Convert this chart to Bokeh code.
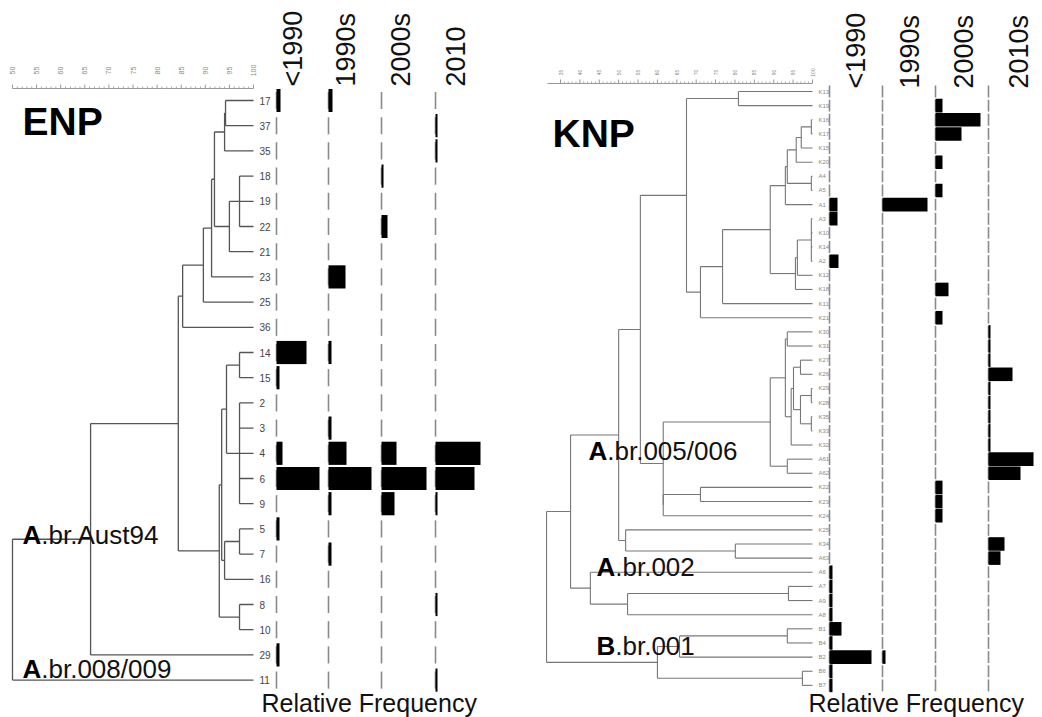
import math
from bokeh.plotting import figure
from bokeh.models import Range1d
from bokeh.layouts import row
from bokeh.embed import file_html
from bokeh.resources import INLINE
from bokeh.core.properties import value

FONT = value("Liberation Sans")

# ---------------- ENP data ----------------
enp_leaves = ["17", "37", "35", "18", "19", "22", "21", "23", "25", "36", "14", "15",
              "2", "3", "4", "6", "9", "5", "7", "16", "8", "10", "29", "11"]
enp_periods = ["<1990", "1990s", "2000s", "2010"]
enp_lt1990 = [0.04, 0, 0, 0, 0, 0, 0, 0, 0, 0, 0.30, 0.03, 0, 0, 0.06, 0.43, 0, 0.03, 0, 0, 0, 0, 0.03, 0]
enp_1990s = [0.04, 0, 0, 0, 0, 0, 0, 0.17, 0, 0, 0.03, 0, 0, 0.03, 0.18, 0.43, 0.03, 0, 0.03, 0, 0, 0, 0, 0]
enp_2000s = [0, 0, 0, 0.02, 0, 0.06, 0, 0, 0, 0, 0, 0, 0, 0, 0.15, 0.45, 0.13, 0, 0, 0, 0, 0, 0, 0]
enp_2010 = [0, 0.02, 0.02, 0, 0, 0, 0, 0, 0, 0, 0, 0, 0, 0, 0.45, 0.39, 0.02, 0, 0, 0, 0.02, 0, 0, 0.02]
# dendrogram: (similarity, child, child, ...)
enp_tree = (50.0,
            (66.2,
             (84.4,
              (85.3,
               (89.6,
                (91.3,
                 (91.9,
                  (94.0, (94.2, "17", "37"), "35"),
                  (95.0, (97.1, "18", "19", "22"), "21")),
                 "23"),
                "25"),
               "36"),
              (92.9,
               (93.4,
                (94.4, (97.1, "14", "15"), (97.1, "2", "3", "4", "6", "9")),
                (94.0, (97.1, "5", "7"), "16")),
               (97.1, "8", "10"))),
             "29"),
            "11")
enp_ticks = [50, 55, 60, 65, 70, 75, 80, 85, 90, 95, 100]

# ---------------- KNP data ----------------
knp_leaves = ["K13", "K19", "K16", "K17", "K15", "K20", "A4", "A5", "A1", "A3", "K10", "K14", "A2",
              "K12", "K18", "K11", "K21", "K30", "K31", "K27", "K26", "K29", "K28", "K35", "K33",
              "K32", "A61", "A62", "K22", "K23", "K24", "K25", "K34", "A63", "A6", "A7", "A9", "A8",
              "B1", "B4", "B2", "B6", "B7"]
knp_periods = ["<1990", "1990s", "2000s", "2010s"]
knp_lt1990 = [0, 0, 0, 0, 0, 0, 0, 0, 0.08, 0.08, 0, 0, 0.09, 0, 0, 0, 0, 0, 0, 0, 0, 0, 0, 0, 0,
              0, 0, 0, 0, 0, 0, 0, 0, 0, 0.03, 0.03, 0.03, 0.03, 0.12, 0.03, 0.42, 0.03, 0.03]
knp_1990s = [0, 0, 0, 0, 0, 0, 0, 0, 0.45, 0, 0, 0, 0, 0, 0, 0, 0, 0, 0, 0, 0, 0, 0, 0, 0,
             0, 0, 0, 0, 0, 0, 0, 0, 0, 0, 0, 0, 0, 0, 0, 0.03, 0, 0]
knp_2000s = [0, 0.07, 0.45, 0.26, 0, 0.07, 0, 0.07, 0, 0, 0, 0, 0, 0, 0.13, 0, 0.07, 0, 0, 0, 0, 0, 0, 0, 0,
             0, 0, 0, 0.07, 0.07, 0.07, 0, 0, 0, 0, 0, 0, 0, 0, 0, 0, 0, 0]
knp_2010s = [0, 0, 0, 0, 0, 0, 0, 0, 0, 0, 0, 0, 0, 0, 0, 0, 0, 0.02, 0.02, 0.02, 0.24, 0.02, 0.02, 0.02, 0.02,
             0.02, 0.45, 0.32, 0, 0, 0, 0, 0.16, 0.12, 0, 0, 0, 0, 0, 0, 0, 0, 0]
knp_tree = (31.4,
            (37.6,
             (50.0,
              (55.6,
               (67.5,
                (80.9, "K13", "K19"),
                (71.1,
                 (76.8,
                  (89.1,
                   (93.0,
                    (93.5,
                     (95.8, (97.1, (99.7, "K16", "K17"), "K15"), "K20"),
                     (99.7, "A4", "A5")),
                    "A1"),
                   (95.6, (96.1, (99.7, "A3", "K10", "K14", "A2"), "K12"), "K18")),
                  "K11"),
                 "K21")),
               (61.5,
                (89.1,
                 (93.0,
                  (93.5, "K30", "K31"),
                  (94.5,
                   (95.1, (96.9, "K27", "K26"), (96.9, (99.7, "K29", "K28"), (99.7, "K35", "K33"))),
                   "K32")),
                 (93.5, "A61", "A62")),
                (61.5, (71.1, "K22", "K23"), "K24"))),
              (51.8, "K25", (80.1, "K34", "A63"))),
             (42.7, "A6", (52.3, (93.8, "A7", "A9"), "A8"))),
            (60.0,
             (65.7, (93.5, "B1", "B4"), "B2"),
             (97.4, "B6", "B7")))
knp_ticks = [35, 40, 45, 50, 55, 60, 65, 70, 75, 80, 85, 90, 95, 100]


def walk(node, idx, segs, info):
    if isinstance(node, str):
        return 100.0, float(idx[node])
    s = node[0]
    kids = [walk(k, idx, segs, info) for k in node[1:]]
    ys = [k[1] for k in kids]
    y = sum(ys) / len(ys)
    segs.append((s, min(ys), s, max(ys)))
    for ks, kyy in kids:
        segs.append((s, kyy, ks, kyy))
    info.append((s, y, kids))
    return s, y


def panel(title, leaves, tree, periods, freqs, ticks, lay):
    W, H = lay["W"], lay["H"]
    kx, x0, s0 = lay["kx"], lay["x0"], ticks[0]
    ky, y0 = lay["ky"], lay["y0"]
    kf = lay["kf"]

    def X(px):
        return s0 + (px - x0) / kx

    def Y(py):
        return (py - y0) / ky

    p = figure(width=W, height=H, x_range=Range1d(X(0), X(W)), y_range=Range1d(Y(H), Y(0)),
               x_axis_location=None, y_axis_location=None, toolbar_location=None,
               output_backend="svg", min_border=0, outline_line_color=None,
               background_fill_color="white", border_fill_color="white")
    p.grid.visible = False
    for j, b in enumerate(lay["bases"]):
        p.extra_x_ranges["c%d" % j] = Range1d(-b / kf, (W - b) / kf)

    # ruler
    ry = Y(lay["ruler_y"])
    p.segment(x0=[X(lay["ruler_x0"])], y0=[ry], x1=[ticks[-1]], y1=[ry], line_color="#999999", line_width=1)
    minor = [t0 + k * (ticks[1] - ticks[0]) / 5.0 for t0 in ticks[:-1] for k in range(1, 5)]
    p.segment(x0=minor, y0=[ry] * len(minor), x1=minor, y1=[ry - 2.0 / ky] * len(minor),
              line_color="#aaaaaa", line_width=1)
    p.segment(x0=ticks, y0=[ry] * len(ticks), x1=ticks, y1=[ry - 4.0 / ky] * len(ticks),
              line_color="#999999", line_width=1)
    p.text(x=ticks, y=[Y(lay["ruler_lab_y"])] * len(ticks), text=[str(t) for t in ticks],
           angle=math.pi / 2, text_align="center", text_baseline="middle",
           text_font=FONT, text_font_size=lay["ruler_fs"], text_color="#888888")

    # dendrogram
    idx = {n: i for i, n in enumerate(leaves)}
    segs, info = [], []
    walk(tree, idx, segs, info)
    p.segment(x0=[s[0] for s in segs], y0=[s[1] for s in segs], x1=[s[2] for s in segs],
              y1=[s[3] for s in segs], line_color=lay["tree_color"], line_width=lay["tree_w"])

    # leaf labels
    n = len(leaves)
    p.text(x=[100 + lay["lab_dx"] / kx] * n, y=list(range(n)), text=leaves,
           text_align="left", text_baseline="middle", text_font=FONT,
           text_font_size=lay["leaf_fs"], text_color=lay["leaf_color"])

    # frequency columns
    for j, vals in enumerate(freqs):
        rn = "c%d" % j
        p.segment(x0=[0] * n, y0=[i - lay["dash"] for i in range(n)], x1=[0] * n,
                  y1=[i + lay["dash"] for i in range(n)], line_color="#8a8a8a", line_width=1.6,
                  x_range_name=rn)
        ys = [i for i, v in enumerate(vals) if v > 0]
        vs = [v for v in vals if v > 0]
        p.hbar(y=ys, left=0, right=vs, height=lay["bar_h"], fill_color="black", line_color=None,
               x_range_name=rn)
        p.text(x=[lay["hdr_dx"][j] / kf], y=[Y(lay["hdr_y"])], text=[periods[j]], angle=math.pi / 2,
               text_align="left", text_baseline="middle", text_font=FONT, text_font_size="27px",
               text_color="#111111", x_range_name=rn)

    # titles
    p.text(x=[X(lay["title_xy"][0])], y=[Y(lay["title_xy"][1])], text=[title], text_align="left",
           text_baseline="middle", text_font=FONT, text_font_size="39px", text_font_style="bold",
           text_color="black")
    p.text(x=[X(lay["rf_xy"][0])], y=[Y(lay["rf_xy"][1])], text=["Relative Frequency"], text_align="left",
           text_baseline="middle", text_font=FONT, text_font_size="25px", text_color="#111111")
    fs = lay["clade_fs"]
    for b, rest, px, py in lay["clades"]:
        p.text(x=[X(px)], y=[Y(py)], text=[b], text_align="left", text_baseline="middle", text_font=FONT,
               text_font_size="%dpx" % fs, text_font_style="bold", text_color="black")
        p.text(x=[X(px + 0.722 * fs)], y=[Y(py)], text=[rest], text_align="left", text_baseline="middle",
               text_font=FONT, text_font_size="%dpx" % fs, text_color="#111111")
    return p


enp_lay = dict(W=521, H=717, kx=241 / 50.0, x0=12, ky=25.2, y0=100, kf=100.0,
               bases=[276, 328, 381, 435], hdr_dx=[16, 17, 19, 20], hdr_y=86,
               ruler_y=88, ruler_x0=12, ruler_lab_y=70, ruler_fs="7px",
               tree_color="#555555", tree_w=1.3, lab_dx=6, leaf_fs="10px", leaf_color="#444444",
               dash=0.34, bar_h=0.92, title_xy=(22, 121), rf_xy=(261, 702), clade_fs=26,
               clades=[("A", ".br.Aust94", 22, 534), ("A", ".br.008/009", 22, 668)])
knp_lay = dict(W=521, H=717, kx=252 / 65.0, x0=39, ky=14.14, y0=91, kf=100.0,
               bases=[308, 361, 414, 467], hdr_dx=[26, 27, 28, 30], hdr_y=88,
               ruler_y=83, ruler_x0=26, ruler_lab_y=72, ruler_fs="5px",
               tree_color="#777777", tree_w=1.1, lab_dx=6, leaf_fs="6px", leaf_color="#888888",
               dash=0.42, bar_h=0.96, title_xy=(31, 133), rf_xy=(287, 702), clade_fs=26,
               clades=[("A", ".br.005/006", 67, 450), ("A", ".br.002", 75, 566), ("B", ".br.001", 75, 645)])

p1 = panel("ENP", enp_leaves, enp_tree, enp_periods, [enp_lt1990, enp_1990s, enp_2000s, enp_2010],
           enp_ticks, enp_lay)
p2 = panel("KNP", knp_leaves, knp_tree, knp_periods, [knp_lt1990, knp_1990s, knp_2000s, knp_2010s],
           knp_ticks, knp_lay)

layout = row(p1, p2)
open("out.html", "w").write(file_html(layout, INLINE))
